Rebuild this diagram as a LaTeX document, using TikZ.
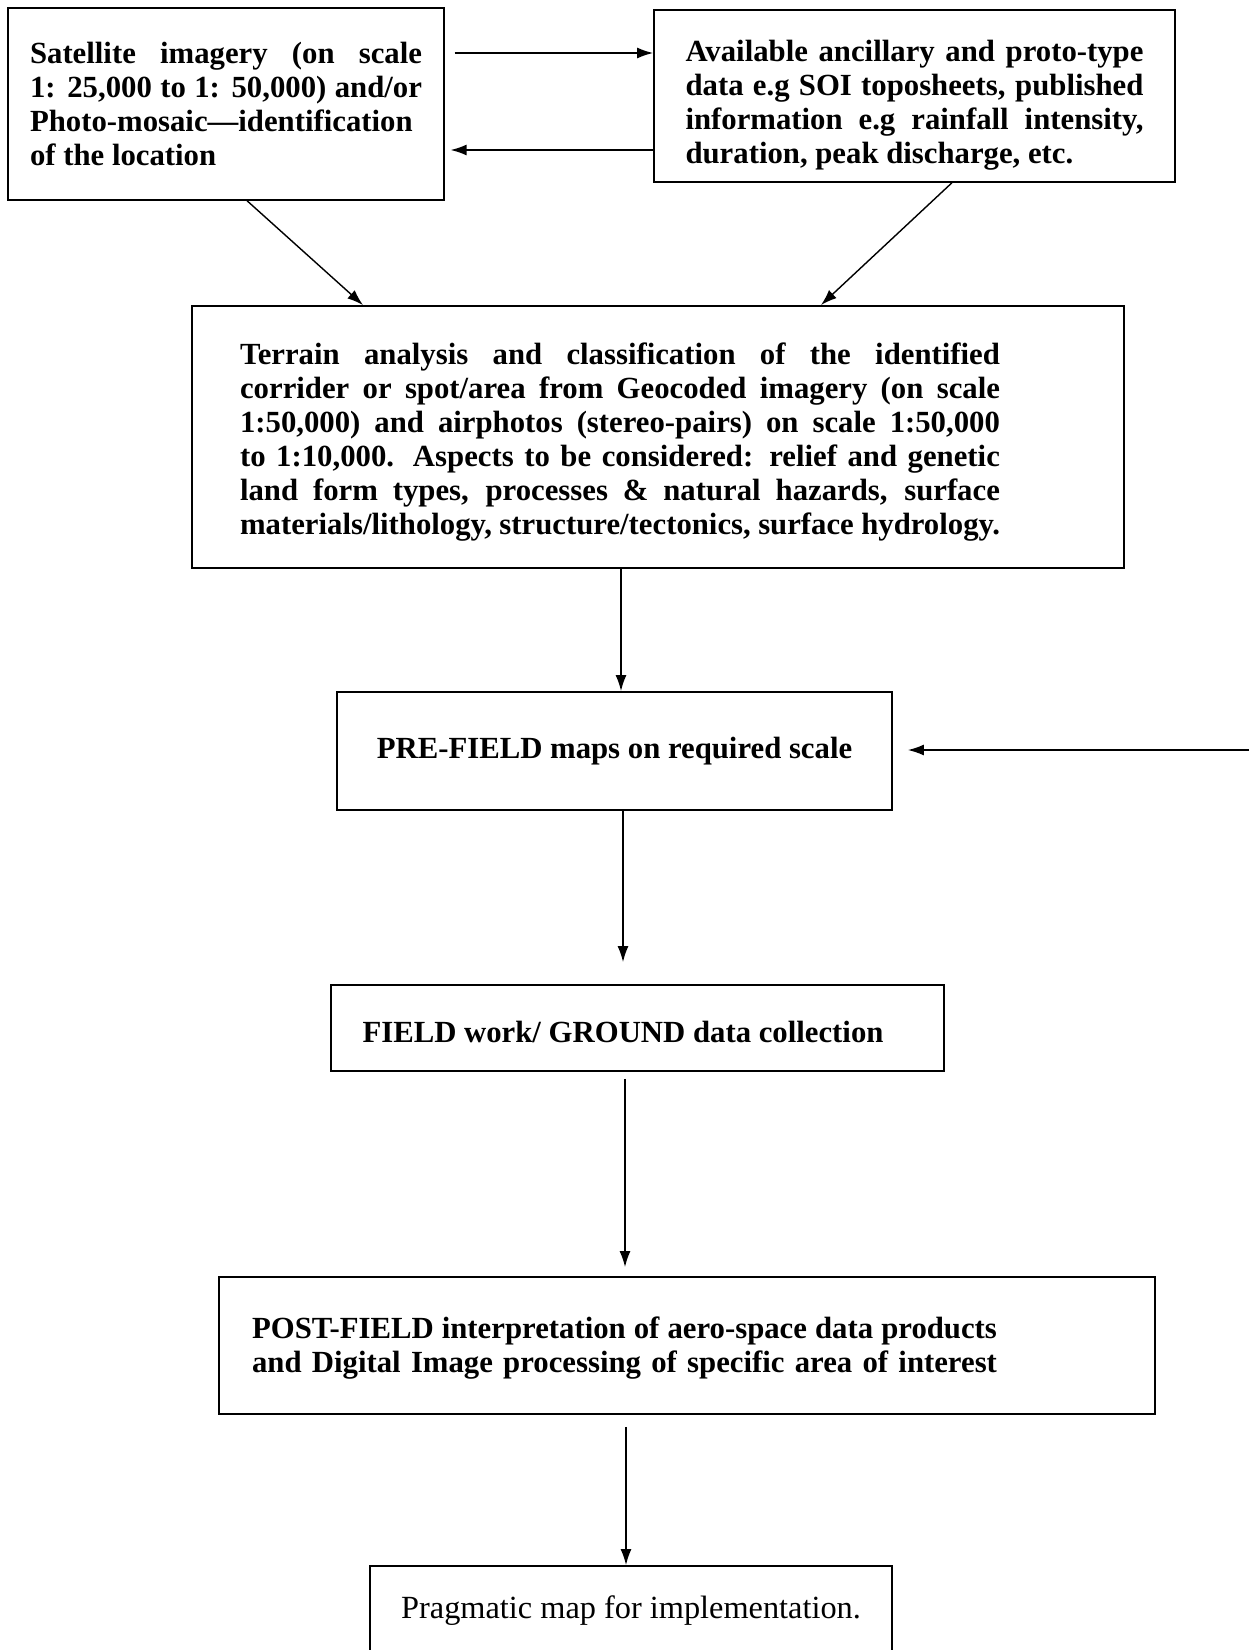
\documentclass[tikz,border=0pt]{standalone}
\usepackage{fontspec}
\setmainfont{Liberation Serif}
\usetikzlibrary{arrows.meta}

\begin{document}
\begin{tikzpicture}[x=0.02cm,y=-0.02cm,
  box/.style={draw,line width=1.1pt,inner sep=0pt,font=\bfseries\fontsize{17.5}{19.3}\selectfont},
  txt/.style={inner sep=0pt,align=justify,font=\bfseries\fontsize{17.5}{19.3}\selectfont},
  arr/.style={line width=0.8pt,-{Latex[length=3.2mm,width=2.2mm]}}]
\clip (0,0) rectangle (1249,1650);

% top row
\node[box,minimum width=8.71cm,minimum height=3.83cm,text width=7.84cm,align=justify] (sat) at (226,104)
  {Satellite imagery (on scale\linebreak 1: 25,000 to 1: 50,000) and/or\linebreak Photo-mosaic—identification\linebreak of the location};
\node[box,minimum width=10.42cm,minimum height=3.43cm] (anc) at (914.5,96) {};
\node[txt,text width=9.16cm] (anc-txt) at (914.5,105)
  {Available ancillary and proto-type\linebreak data e.g SOI toposheets, published\linebreak information e.g rainfall intensity,\linebreak duration, peak discharge, etc.};

% terrain analysis
\node[box,minimum width=18.65cm,minimum height=5.24cm] (terrain) at (658,437) {};
\node[txt,text width=15.2cm] (terrain-txt) at (620,442)
  {Terrain analysis and classification of the identified\linebreak corrider or spot/area from Geocoded imagery (on scale\linebreak 1:50,000) and airphotos (stereo-pairs) on scale 1:50,000\linebreak to 1:10,000. Aspects to be considered: relief and genetic\linebreak land form types, processes \& natural hazards, surface\linebreak materials/lithology, structure/tectonics, surface hydrology.};

% field stages
\node[box,minimum width=11.1cm,minimum height=2.36cm] (prefield) at (614.5,751) {PRE-FIELD maps on required scale};
\node[box,minimum width=12.26cm,minimum height=1.72cm] (field) at (637.5,1028) {};
\node[txt] (field-txt) at (623,1032) {FIELD work/ GROUND data collection};
\node[box,minimum width=18.72cm,minimum height=2.74cm] (postfield) at (687,1345.5) {};
\node[txt,text width=14.9cm] (postfield-txt) at (624.5,1348)
  {POST-FIELD interpretation of aero-space data products\linebreak
   \makebox[\hsize][s]{and Digital Image processing of specific area of interest}};
\node[box,minimum width=10.44cm,minimum height=1.8cm,font=\fontsize{18.4}{20}\selectfont] (prag) at (631,1611) {Pragmatic map for implementation.};

% connectors
\draw[arr,shorten <=0.2cm] (sat.east |- 0,53) -- (anc.west |- 0,53);
\draw[arr,shorten >=0.12cm] (anc.west |- 0,150) -- (sat.east |- 0,150);
\draw[arr] (sat.south -| 247,0) -- (terrain.north -| 363,0);
\draw[arr] (anc.south -| 952,0) -- (terrain.north -| 821,0);
\draw[arr] (terrain.south -| 621,0) -- (prefield.north -| 621,0);
\coordinate (feed) at (1249,750);
\draw[arr,shorten >=0.3cm] (feed) -- (prefield.east |- feed);
\draw[arr,shorten >=0.44cm] (prefield.south -| 623,0) -- (field.north -| 623,0);
\draw[arr,shorten <=0.14cm,shorten >=0.18cm] (field.south -| 625,0) -- (postfield.north -| 625,0);
\draw[arr,shorten <=0.24cm] (postfield.south -| 626,0) -- (prag.north -| 626,0);
\end{tikzpicture}
\end{document}
